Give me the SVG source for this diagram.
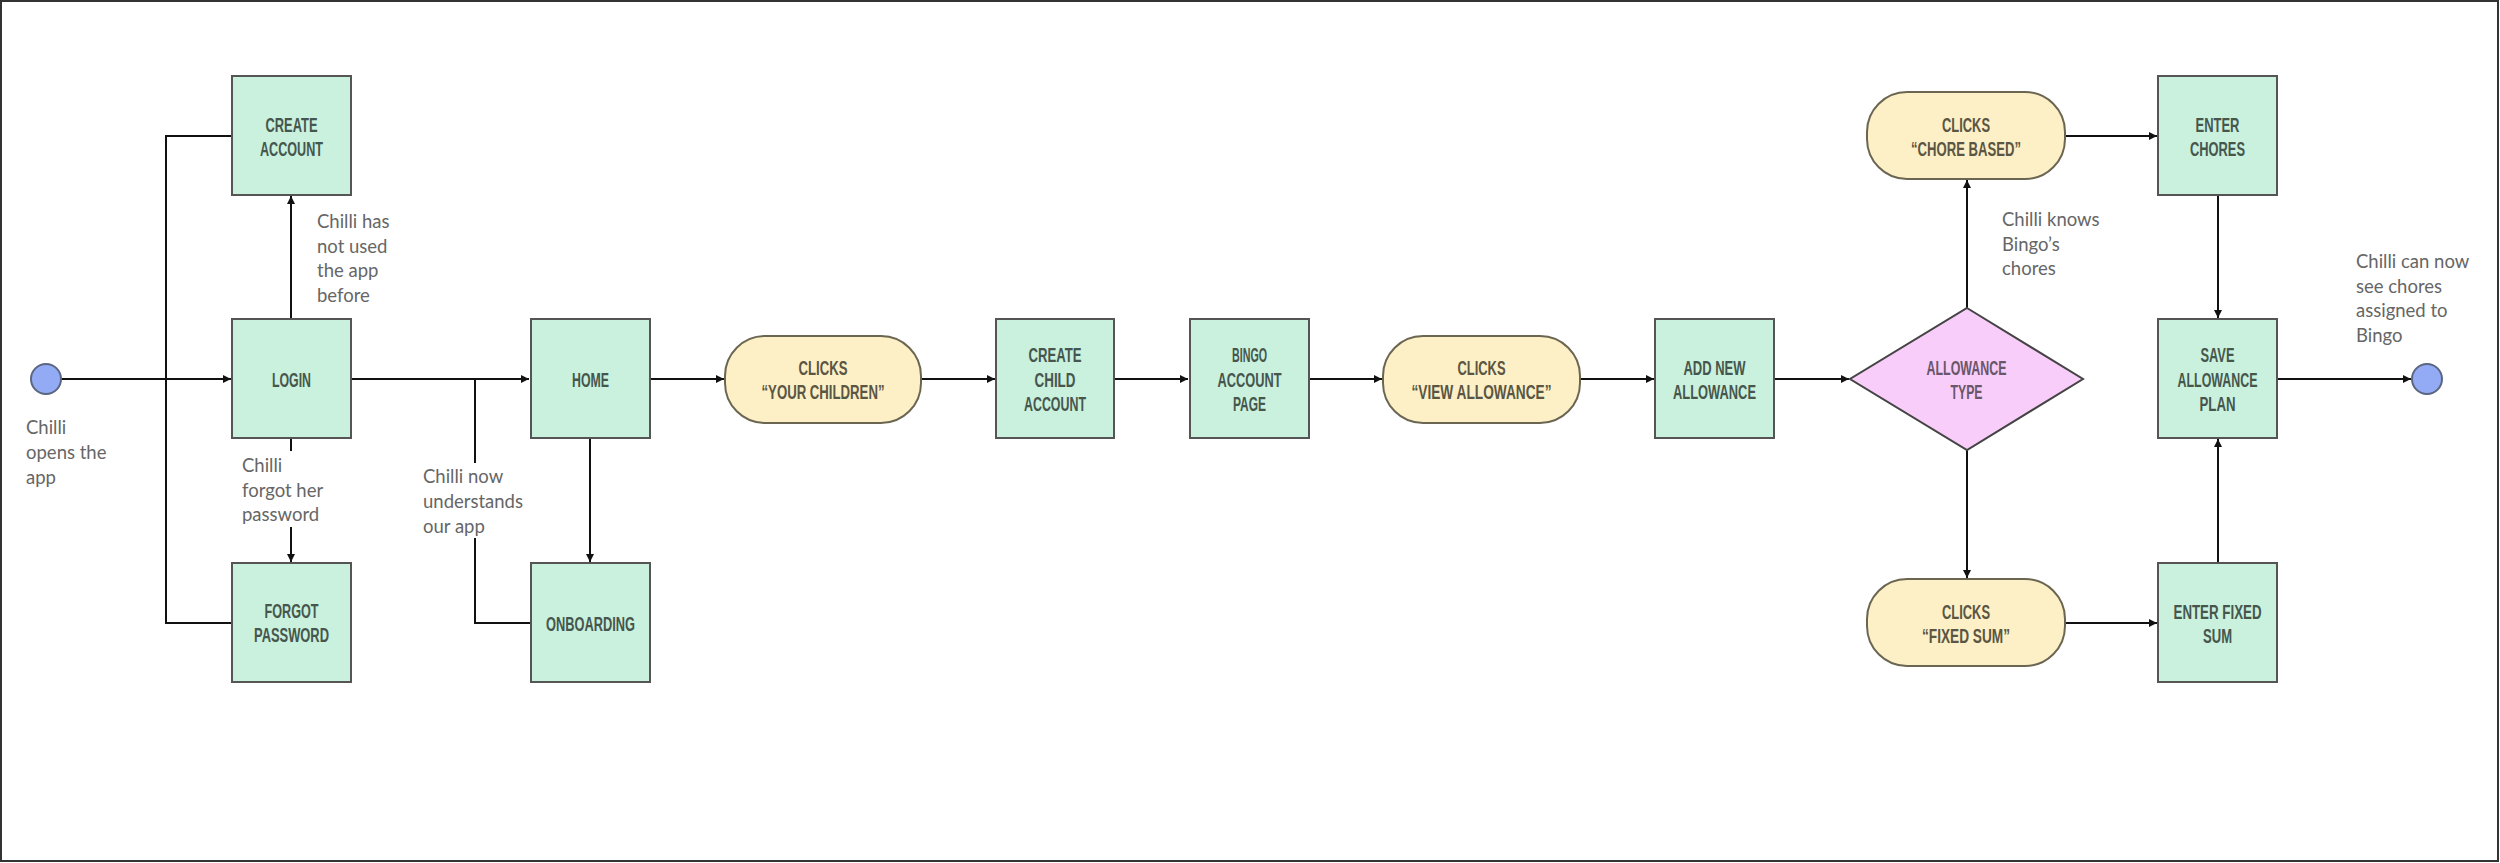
<svg xmlns="http://www.w3.org/2000/svg" width="2500" height="863" viewBox="0 0 2500 863">
<defs>
<marker id="arr" viewBox="0 0 10 10" refX="10" refY="5" markerWidth="9" markerHeight="8" markerUnits="userSpaceOnUse" orient="auto">
<path d="M0,0 L10,5 L0,10 z" fill="#111"/>
</marker>
<style>
.box{fill:#c9f1de;stroke:#555;stroke-width:2}
.pill{fill:#fdf0c7;stroke:#6b6652;stroke-width:2}
.dia{fill:#f9cdf9;stroke:#444;stroke-width:2}
.dot{fill:#92abf4;stroke:#5b6680;stroke-width:2}
.t{font-family:"Liberation Sans Narrow","Liberation Sans",Arial,sans-serif;font-weight:bold;font-size:21px;text-anchor:middle;fill:#46564d}
.tp{fill:#5a5643}
.td{fill:#68566a}
.lbl{font-family:Lato,"Noto Sans",sans-serif;font-size:18.5px;fill:#666}
.c{fill:none;stroke:#111;stroke-width:2}
.ca{fill:none;stroke:#111;stroke-width:2;marker-end:url(#arr)}
</style>
</defs>
<rect x="1" y="1" width="2497" height="860" fill="#fff" stroke="#333" stroke-width="2"/>

<g id="connectors">
<path class="ca" d="M61,379 H231"/>
<path class="c" d="M232,136 H166 V623 H231"/>
<path class="ca" d="M291,319 V196"/>
<path class="c" d="M291,438 V451"/>
<path class="ca" d="M291,527 V562"/>
<path class="ca" d="M350,379 H529"/>
<path class="c" d="M475,379 V463"/>
<path class="c" d="M475,538 V623 H530"/>
<path class="ca" d="M590,438 V562"/>
<path class="ca" d="M650,379 H724"/>
<path class="ca" d="M921,379 H995"/>
<path class="ca" d="M1114,379 H1188"/>
<path class="ca" d="M1309,379 H1382"/>
<path class="ca" d="M1580,379 H1654"/>
<path class="ca" d="M1774,379 H1849"/>
<path class="ca" d="M1967,308 V180"/>
<path class="ca" d="M1967,450 V578"/>
<path class="ca" d="M2065,136 H2157"/>
<path class="ca" d="M2065,623 H2157"/>
<path class="ca" d="M2218,195 V318"/>
<path class="ca" d="M2218,563 V439"/>
<path class="ca" d="M2277,379 H2411"/>
</g>

<g id="start"><circle class="dot" cx="46" cy="379" r="15"/></g>
<g id="end"><circle class="dot" cx="2427" cy="379" r="15"/></g>

<g id="create-account">
<rect class="box" x="232" y="76" width="119" height="119"/>
<text class="t" x="291.5" y="131.5" textLength="52" lengthAdjust="spacingAndGlyphs">CREATE</text>
<text class="t" x="291.5" y="155.5" textLength="63" lengthAdjust="spacingAndGlyphs">ACCOUNT</text>
</g>
<g id="login">
<rect class="box" x="232" y="319" width="119" height="119"/>
<text class="t" x="291.5" y="386.5" textLength="39" lengthAdjust="spacingAndGlyphs">LOGIN</text>
</g>
<g id="forgot-password">
<rect class="box" x="232" y="563" width="119" height="119"/>
<text class="t" x="291.5" y="617.5" textLength="54" lengthAdjust="spacingAndGlyphs">FORGOT</text>
<text class="t" x="291.5" y="641.5" textLength="75" lengthAdjust="spacingAndGlyphs">PASSWORD</text>
</g>
<g id="home">
<rect class="box" x="531" y="319" width="119" height="119"/>
<text class="t" x="590.5" y="386.5" textLength="37" lengthAdjust="spacingAndGlyphs">HOME</text>
</g>
<g id="onboarding">
<rect class="box" x="531" y="563" width="119" height="119"/>
<text class="t" x="590.5" y="630.5" textLength="89" lengthAdjust="spacingAndGlyphs">ONBOARDING</text>
</g>
<g id="your-children">
<rect class="pill" x="725" y="336" width="196" height="87" rx="40"/>
<text class="t tp" x="823" y="374.5" textLength="49" lengthAdjust="spacingAndGlyphs">CLICKS</text>
<text class="t tp" x="823" y="398.5" textLength="123" lengthAdjust="spacingAndGlyphs">“YOUR CHILDREN”</text>
</g>
<g id="create-child-account">
<rect class="box" x="996" y="319" width="118" height="119"/>
<text class="t" x="1055" y="361.5" textLength="53" lengthAdjust="spacingAndGlyphs">CREATE</text>
<text class="t" x="1055" y="386.5" textLength="41" lengthAdjust="spacingAndGlyphs">CHILD</text>
<text class="t" x="1055" y="410.5" textLength="62" lengthAdjust="spacingAndGlyphs">ACCOUNT</text>
</g>
<g id="bingo-account-page">
<rect class="box" x="1190" y="319" width="119" height="119"/>
<text class="t" x="1249.5" y="361.5" textLength="35" lengthAdjust="spacingAndGlyphs">BINGO</text>
<text class="t" x="1249.5" y="386.5" textLength="64" lengthAdjust="spacingAndGlyphs">ACCOUNT</text>
<text class="t" x="1249.5" y="410.5" textLength="33" lengthAdjust="spacingAndGlyphs">PAGE</text>
</g>
<g id="view-allowance">
<rect class="pill" x="1383" y="336" width="197" height="87" rx="40"/>
<text class="t tp" x="1481.5" y="374.5" textLength="48" lengthAdjust="spacingAndGlyphs">CLICKS</text>
<text class="t tp" x="1481.5" y="398.5" textLength="140" lengthAdjust="spacingAndGlyphs">“VIEW ALLOWANCE”</text>
</g>
<g id="add-new-allowance">
<rect class="box" x="1655" y="319" width="119" height="119"/>
<text class="t" x="1714.5" y="374.5" textLength="62" lengthAdjust="spacingAndGlyphs">ADD NEW</text>
<text class="t" x="1714.5" y="398.5" textLength="83" lengthAdjust="spacingAndGlyphs">ALLOWANCE</text>
</g>
<g id="allowance-type">
<polygon class="dia" points="1967,308 2083,379 1967,450 1850,379"/>
<text class="t td" x="1966.5" y="374.5" textLength="80" lengthAdjust="spacingAndGlyphs">ALLOWANCE</text>
<text class="t td" x="1966.5" y="398.5" textLength="32" lengthAdjust="spacingAndGlyphs">TYPE</text>
</g>
<g id="chore-based">
<rect class="pill" x="1867" y="92" width="198" height="87" rx="40"/>
<text class="t tp" x="1966" y="131.5" textLength="48" lengthAdjust="spacingAndGlyphs">CLICKS</text>
<text class="t tp" x="1966" y="155.5" textLength="110" lengthAdjust="spacingAndGlyphs">“CHORE BASED”</text>
</g>
<g id="fixed-sum">
<rect class="pill" x="1867" y="579" width="198" height="87" rx="40"/>
<text class="t tp" x="1966" y="618.5" textLength="48" lengthAdjust="spacingAndGlyphs">CLICKS</text>
<text class="t tp" x="1966" y="642.5" textLength="88" lengthAdjust="spacingAndGlyphs">“FIXED SUM”</text>
</g>
<g id="enter-chores">
<rect class="box" x="2158" y="76" width="119" height="119"/>
<text class="t" x="2217.5" y="131.5" textLength="44" lengthAdjust="spacingAndGlyphs">ENTER</text>
<text class="t" x="2217.5" y="155.5" textLength="55" lengthAdjust="spacingAndGlyphs">CHORES</text>
</g>
<g id="save-allowance-plan">
<rect class="box" x="2158" y="319" width="119" height="119"/>
<text class="t" x="2217.5" y="361.5" textLength="34" lengthAdjust="spacingAndGlyphs">SAVE</text>
<text class="t" x="2217.5" y="386.5" textLength="80" lengthAdjust="spacingAndGlyphs">ALLOWANCE</text>
<text class="t" x="2217.5" y="410.5" textLength="36" lengthAdjust="spacingAndGlyphs">PLAN</text>
</g>
<g id="enter-fixed-sum">
<rect class="box" x="2158" y="563" width="119" height="119"/>
<text class="t" x="2217.5" y="618.5" textLength="88" lengthAdjust="spacingAndGlyphs">ENTER FIXED</text>
<text class="t" x="2217.5" y="642.5" textLength="29" lengthAdjust="spacingAndGlyphs">SUM</text>
</g>

<g id="labels">
<text class="lbl" x="26" y="434">Chilli</text>
<text class="lbl" x="26" y="459">opens the</text>
<text class="lbl" x="26" y="484">app</text>
<text class="lbl" x="317" y="228">Chilli has</text>
<text class="lbl" x="317" y="252.5">not used</text>
<text class="lbl" x="317" y="277">the app</text>
<text class="lbl" x="317" y="301.5">before</text>
<text class="lbl" x="242" y="472">Chilli</text>
<text class="lbl" x="242" y="496.5">forgot her</text>
<text class="lbl" x="242" y="521">password</text>
<text class="lbl" x="423" y="483">Chilli now</text>
<text class="lbl" x="423" y="508">understands</text>
<text class="lbl" x="423" y="533">our app</text>
<text class="lbl" x="2002" y="226">Chilli knows</text>
<text class="lbl" x="2002" y="250.5">Bingo’s</text>
<text class="lbl" x="2002" y="275">chores</text>
<text class="lbl" x="2356" y="268">Chilli can now</text>
<text class="lbl" x="2356" y="292.5">see chores</text>
<text class="lbl" x="2356" y="317">assigned to</text>
<text class="lbl" x="2356" y="341.5">Bingo</text>
</g>
</svg>
